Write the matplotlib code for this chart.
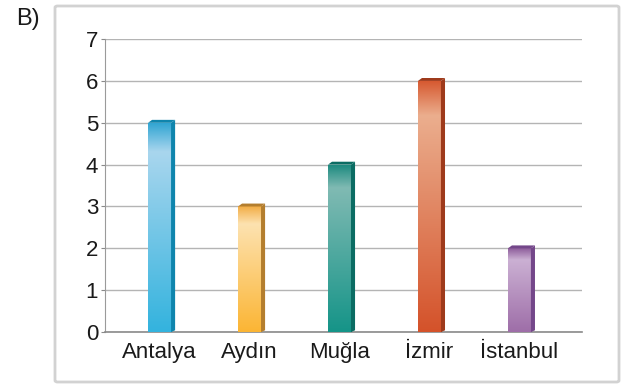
import matplotlib.pyplot as plt
import numpy as np
from matplotlib.colors import LinearSegmentedColormap
from matplotlib.patches import FancyBboxPatch, Polygon

plt.rcParams['font.family'] = ['Liberation Sans', 'DejaVu Sans']

cities = ['Antalya', 'Aydın', 'Muğla', 'İzmir', 'İstanbul']
values = [5, 3, 4, 6, 2]
yticks = [0, 1, 2, 3, 4, 5, 6, 7]

# bottom, light band, top edge, side face
bar_colors = [
    ('#33b3de', '#a9d6ee', '#2ea4d2', '#0f85ad'),
    ('#fbb534', '#fde2b0', '#f2ad45', '#b47e2e'),
    ('#159488', '#80bab3', '#1a897e', '#0b6c63'),
    ('#d4522a', '#ebae8e', '#d6582f', '#9e3a1b'),
    ('#9e6ea8', '#cbb0d3', '#8d5d9b', '#74478a'),
]

fig = plt.figure(figsize=(6.27, 3.87), dpi=100)
ax = fig.add_axes([0.1675, 0.142, 0.7605, 0.757])

x = np.arange(len(cities))
w = 0.256
bars = ax.bar(x, values, width=w, color='none', zorder=3)

dx, dy = 0.045, 0.07
for b, (c_bot, c_light, c_top, c_side) in zip(bars, bar_colors):
    x0, x1 = b.get_x(), b.get_x() + b.get_width()
    h = b.get_height()
    cmap = LinearSegmentedColormap.from_list(
        'g', [(0, c_bot), (0.86, c_light), (1.0, c_top)])
    grad = np.linspace(0, 1, 256).reshape(-1, 1)
    im = ax.imshow(grad, cmap=cmap, origin='lower', aspect='auto',
                   extent=[x0, x1, 0, h], zorder=3)
    im.set_clip_path(b)
    side = Polygon([(x1, 0), (x1 + dx, dy * 0.6), (x1 + dx, h + dy), (x1, h)],
                   closed=True, facecolor=c_side, edgecolor='none', zorder=3)
    top = Polygon([(x0, h), (x1, h), (x1 + dx, h + dy), (x0 + dx, h + dy)],
                  closed=True, facecolor=c_side, edgecolor='none', zorder=4)
    ax.add_patch(side)
    ax.add_patch(top)

ax.set_xlim(-0.606, 4.694)
ax.set_ylim(0, 7)
ax.set_yticks(yticks)
ax.set_xticks(x)
ax.set_xticklabels(cities)
ax.tick_params(axis='y', labelsize=16, length=3, color='#8a8a8a', pad=2)
ax.tick_params(axis='x', labelsize=16, length=0, pad=7)
for lbl in ax.get_xticklabels() + ax.get_yticklabels():
    lbl.set_color('#1a1a1a')
ax.grid(axis='y', color='#b4b4b4', linewidth=1, zorder=0)
for s in ['top', 'right']:
    ax.spines[s].set_visible(False)
ax.spines['left'].set_color('#9a9a9a')
ax.spines['bottom'].set_color('#8a8a8a')
ax.spines['bottom'].set_linewidth(1.2)
ax.set_axisbelow(True)

frame = FancyBboxPatch((55 / 627, 5 / 387), 564 / 627, 376 / 387,
                       boxstyle='round,pad=0,rounding_size=0.004',
                       transform=fig.transFigure, facecolor='none',
                       edgecolor='#d2d2d2', linewidth=2)
fig.patches.append(frame)
fig.text(16 / 627, 1 - 19 / 387, 'B)', fontsize=17, va='center', ha='left',
         color='#1a1a1a')

fig.savefig('out.png', dpi=100)
